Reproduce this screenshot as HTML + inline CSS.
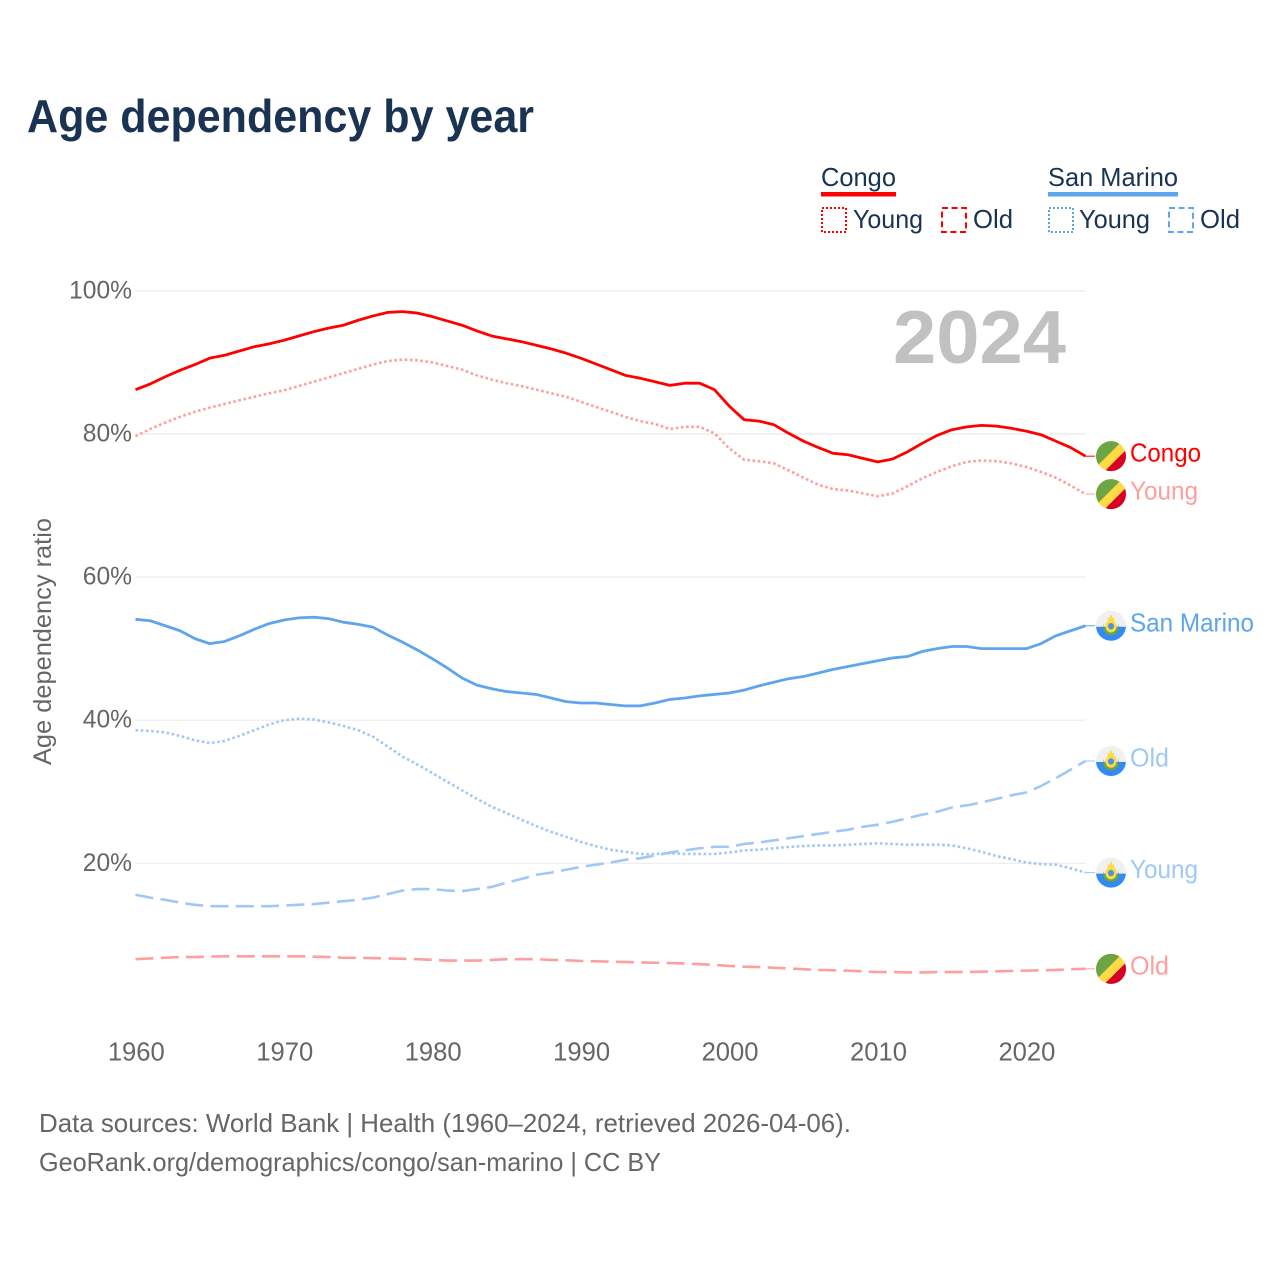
<!DOCTYPE html>
<html lang="en">
<head>
<meta charset="utf-8">
<title>Age dependency by year</title>
<style>
html,body{margin:0;padding:0;background:#fff;width:1280px;height:1280px;overflow:hidden}
svg{display:block}
text{font-family:"Liberation Sans",sans-serif}
</style>
</head>
<body>
<svg id="chart" xmlns="http://www.w3.org/2000/svg" width="1280" height="1280" viewBox="0 0 1280 1280">
  <defs>
    <clipPath id="flag-clip"><circle cx="0" cy="0" r="15"/></clipPath>
    <g id="flag-congo" clip-path="url(#flag-clip)">
      <rect x="-16" y="-16" width="32" height="32" fill="#ffda44"/>
      <polygon points="-20,16 16,-20 -20,-20" fill="#6da544"/>
      <polygon points="-20,28.7 28.7,-20 28.7,28.7" fill="#d80027"/>
    </g>
    <g id="flag-san-marino" clip-path="url(#flag-clip)">
      <rect x="-16" y="-16" width="32" height="17" fill="#f0f0f0"/>
      <rect x="-16" y="1" width="32" height="16" fill="#338af3"/>
      <path d="M-7.5,-3 A7.5,8.5 0 0 0 7.5,-3 L7.5,5 L3,9 L-3,9 L-7.5,5 Z" fill="#6da544"/>
      <ellipse cx="0" cy="0.5" rx="5.6" ry="6.2" fill="#ffda44"/>
      <ellipse cx="0" cy="0.5" rx="3" ry="3.2" fill="#4f93d8"/>
      <rect x="-3.2" y="-8" width="6.4" height="3.8" fill="#ffda44"/>
      <rect x="-1" y="-10.5" width="2" height="2.8" fill="#ffda44"/>
    </g>
  </defs>

  <rect x="0" y="0" width="1280" height="1280" fill="#ffffff"/>

  <text x="27" y="132" font-size="46" font-weight="700" fill="#1a3352" textLength="507" lengthAdjust="spacingAndGlyphs">Age dependency by year</text>

  <g>
    <text x="821" y="186" font-size="26" fill="#1a3352" textLength="75" lengthAdjust="spacingAndGlyphs">Congo</text>
    <rect x="821" y="192" width="75" height="4.5" fill="#ff0000"/>
    <rect x="822" y="208" width="24" height="24" fill="none" stroke="#ff0000" stroke-width="2" stroke-dasharray="2 2"/>
    <text x="853" y="228" font-size="26" fill="#1a3352" textLength="70" lengthAdjust="spacingAndGlyphs">Young</text>
    <rect x="942" y="208" width="24" height="24" fill="none" stroke="#ff0000" stroke-width="2" stroke-dasharray="6 3.6"/>
    <text x="973" y="228" font-size="26" fill="#1a3352" textLength="40" lengthAdjust="spacingAndGlyphs">Old</text>

    <text x="1048" y="186" font-size="26" fill="#1a3352" textLength="130" lengthAdjust="spacingAndGlyphs">San Marino</text>
    <rect x="1048" y="192" width="130" height="4.5" fill="#5fa5ee"/>
    <rect x="1049" y="208" width="24" height="24" fill="none" stroke="#5fa5ee" stroke-width="2" stroke-dasharray="2 2"/>
    <text x="1079" y="228" font-size="26" fill="#1a3352" textLength="71" lengthAdjust="spacingAndGlyphs">Young</text>
    <rect x="1169" y="208" width="24" height="24" fill="none" stroke="#5fa5ee" stroke-width="2" stroke-dasharray="6 3.6"/>
    <text x="1200" y="228" font-size="26" fill="#1a3352" textLength="40" lengthAdjust="spacingAndGlyphs">Old</text>
  </g>

  <g id="grid"></g>
  <g id="y-ticks"></g>
  <g id="x-ticks"></g>

  <text x="893" y="363" font-size="75" font-weight="700" fill="#c1c1c1" textLength="173" lengthAdjust="spacingAndGlyphs">2024</text>

  <text transform="translate(51,765) rotate(-90)" x="0" y="0" font-size="25" fill="#666666" textLength="247" lengthAdjust="spacingAndGlyphs">Age dependency ratio</text>

  <g id="series"></g>
  <g id="end-labels"></g>

  <text x="39" y="1132" font-size="26" fill="#666666" textLength="812" lengthAdjust="spacingAndGlyphs">Data sources: World Bank | Health (1960–2024, retrieved 2026-04-06).</text>
  <text x="39" y="1171" font-size="26" fill="#666666" textLength="622" lengthAdjust="spacingAndGlyphs">GeoRank.org/demographics/congo/san-marino | CC BY</text>
</svg>

<script>
const firstYear = 1960;
const lastYear = 2024;
const xTickYears = [1960, 1970, 1980, 1990, 2000, 2010, 2020];
const yTickValues = [20, 40, 60, 80, 100];

const congoTotal = [86.2,87.0,88.0,88.9,89.7,90.6,91.0,91.6,92.2,92.6,93.1,93.7,94.3,94.8,95.2,95.9,96.5,97.0,97.1,96.9,96.4,95.8,95.2,94.4,93.7,93.3,92.9,92.4,91.9,91.3,90.6,89.8,89.0,88.2,87.8,87.3,86.8,87.1,87.1,86.2,83.9,82.0,81.8,81.3,80.1,79.0,78.1,77.3,77.1,76.6,76.1,76.5,77.5,78.7,79.8,80.6,81.0,81.2,81.1,80.8,80.4,79.9,79.0,78.1,76.9];
const congoYoung = [79.7,80.7,81.6,82.4,83.1,83.7,84.2,84.7,85.2,85.7,86.1,86.7,87.3,87.9,88.5,89.1,89.7,90.2,90.4,90.3,90.0,89.5,89.0,88.2,87.6,87.1,86.7,86.2,85.7,85.2,84.5,83.8,83.1,82.4,81.8,81.4,80.7,81.0,81.0,80.1,78.0,76.4,76.2,75.9,74.9,73.9,72.9,72.3,72.1,71.7,71.3,71.7,72.7,73.8,74.7,75.5,76.1,76.3,76.2,75.9,75.4,74.7,73.9,72.8,71.6];
const congoOld = [6.6,6.7,6.8,6.9,6.9,6.95,7.0,7.0,7.0,7.0,7.0,7.0,6.95,6.9,6.8,6.8,6.75,6.7,6.65,6.6,6.5,6.4,6.4,6.4,6.5,6.6,6.6,6.6,6.5,6.45,6.35,6.3,6.25,6.2,6.15,6.1,6.05,6.0,5.9,5.8,5.65,5.55,5.5,5.4,5.3,5.2,5.1,5.05,5.0,4.9,4.8,4.8,4.75,4.75,4.8,4.8,4.8,4.85,4.9,4.95,5.0,5.05,5.1,5.2,5.25];
const sanMarinoTotal = [54.1,53.9,53.2,52.5,51.4,50.7,51.0,51.8,52.7,53.5,54.0,54.3,54.4,54.2,53.7,53.4,53.0,51.9,50.9,49.8,48.6,47.3,45.9,44.9,44.4,44.0,43.8,43.6,43.1,42.6,42.4,42.4,42.2,42.0,42.0,42.4,42.9,43.1,43.4,43.6,43.8,44.2,44.8,45.3,45.8,46.1,46.6,47.1,47.5,47.9,48.3,48.7,48.9,49.6,50.0,50.3,50.3,50.0,50.0,50.0,50.0,50.7,51.8,52.5,53.2];
const sanMarinoYoung = [38.6,38.5,38.3,37.8,37.2,36.8,37.1,37.8,38.6,39.4,40.0,40.2,40.1,39.7,39.2,38.6,37.7,36.3,34.9,33.8,32.6,31.4,30.2,29.0,27.9,27.0,26.1,25.2,24.4,23.7,23.0,22.4,21.9,21.6,21.3,21.3,21.4,21.3,21.3,21.3,21.5,21.8,21.9,22.1,22.3,22.4,22.5,22.5,22.6,22.7,22.8,22.7,22.6,22.6,22.6,22.5,22.1,21.6,21.0,20.6,20.1,19.9,19.8,19.3,18.7];
const sanMarinoOld = [15.6,15.2,14.9,14.5,14.2,14.0,14.0,14.0,14.0,14.0,14.1,14.2,14.3,14.5,14.7,14.9,15.2,15.7,16.2,16.4,16.4,16.2,16.1,16.4,16.7,17.3,17.8,18.4,18.7,19.1,19.5,19.8,20.1,20.5,20.7,21.1,21.5,21.8,22.1,22.3,22.3,22.7,22.9,23.2,23.5,23.8,24.1,24.4,24.7,25.1,25.4,25.8,26.3,26.8,27.2,27.8,28.1,28.5,29.0,29.5,29.9,30.8,31.9,33.1,34.3];

const SVG_NS = 'http://www.w3.org/2000/svg';
const PLOT_LEFT = 135.5;
const PLOT_RIGHT = 1085.5;
const Y_ZERO = 1006.4;
const PX_PER_PCT = 7.155;

function xScale(year) {
  return PLOT_LEFT + (year - firstYear) * (PLOT_RIGHT - PLOT_LEFT) / (lastYear - firstYear);
}
function yScale(value) {
  return Y_ZERO - value * PX_PER_PCT;
}
function make(tag, parent) {
  const el = document.createElementNS(SVG_NS, tag);
  parent.appendChild(el);
  return el;
}

const gridGroup = document.getElementById('grid');
const yTickGroup = document.getElementById('y-ticks');
const xTickGroup = document.getElementById('x-ticks');
const seriesGroup = document.getElementById('series');
const labelGroup = document.getElementById('end-labels');

yTickValues.forEach(function (v) {
  const line = make('line', gridGroup);
  
  
  line.setAttribute('x1', PLOT_LEFT);
  line.setAttribute('x2', PLOT_RIGHT);
  line.setAttribute('y1', yScale(v));
  line.setAttribute('y2', yScale(v));
  line.setAttribute('stroke', '#ebebeb');
  line.setAttribute('stroke-width', '1.2');

  const label = make('text', yTickGroup);
  
  
  label.setAttribute('x', 132);
  label.setAttribute('y', yScale(v) + 7.5);
  label.setAttribute('text-anchor', 'end');
  label.setAttribute('font-size', '24.6');
  label.setAttribute('fill', '#666666');
  label.textContent = v + '%';
});

xTickYears.forEach(function (year) {
  const label = make('text', xTickGroup);
  
  
  label.setAttribute('x', xScale(year) + 0.8);
  label.setAttribute('y', 1060.5);
  label.setAttribute('text-anchor', 'middle');
  label.setAttribute('font-size', '25.6');
  label.setAttribute('fill', '#666666');
  label.textContent = String(year);
});

function drawSeries(values, name, color, width, dash, flagId, labelText, labelWidth) {
  const pts = values.map(function (v, i) {
    return xScale(firstYear + i).toFixed(2) + ',' + yScale(v).toFixed(2);
  }).join(' ');

  const line = make('polyline', seriesGroup);
  
  
  line.setAttribute('points', pts);
  line.setAttribute('fill', 'none');
  line.setAttribute('stroke', color);
  line.setAttribute('stroke-width', width);
  line.setAttribute('stroke-linejoin', 'round');
  if (dash) {
    line.setAttribute('stroke-dasharray', dash);
  }

  const endValue = values[values.length - 1];
  const endY = yScale(endValue);

  const connector = make('line', labelGroup);
  
  
  connector.setAttribute('x1', PLOT_RIGHT);
  connector.setAttribute('x2', 1095);
  connector.setAttribute('y1', endY);
  connector.setAttribute('y2', endY);
  connector.setAttribute('stroke', color);
  connector.setAttribute('stroke-width', '1');

  const flag = make('use', labelGroup);
  
  
  flag.setAttribute('href', '#' + flagId);
  flag.setAttribute('transform', 'translate(1111,' + endY + ')');

  const text = make('text', labelGroup);
  
  
  text.setAttribute('x', 1130);
  text.setAttribute('y', endY + 5.5);
  text.setAttribute('font-size', '26');
  text.setAttribute('fill', color);
  text.setAttribute('textLength', labelWidth);
  text.setAttribute('lengthAdjust', 'spacingAndGlyphs');
  text.textContent = labelText;
}

drawSeries(sanMarinoOld, 'san-marino-old', '#9fc8f5', 2.6, '18 7.3', 'flag-san-marino', 'Old', 39);
drawSeries(sanMarinoYoung, 'san-marino-young', '#9fc8f5', 2.6, '2.6 2.6', 'flag-san-marino', 'Young', 68);
drawSeries(sanMarinoTotal, 'san-marino-total', '#5fa5ee', 2.8, null, 'flag-san-marino', 'San Marino', 124);
drawSeries(congoOld, 'congo-old', '#ff9e9e', 2.6, '18 7.3', 'flag-congo', 'Old', 39);
drawSeries(congoYoung, 'congo-young', '#ff9e9e', 2.6, '2.6 2.6', 'flag-congo', 'Young', 68);
drawSeries(congoTotal, 'congo-total', '#ff0000', 2.8, null, 'flag-congo', 'Congo', 71);
</script>
</body>
</html>
